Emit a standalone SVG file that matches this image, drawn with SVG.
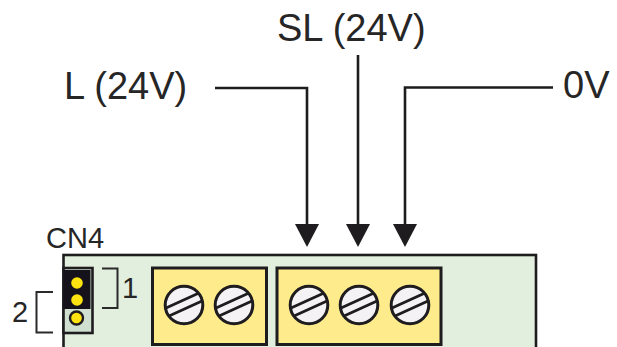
<svg xmlns="http://www.w3.org/2000/svg" width="617" height="347" viewBox="0 0 617 347">
<style>
.t{font-family:"Liberation Sans",Arial,sans-serif;fill:#262626}
.big{font-size:38px}
.small{font-size:29px}
.w{fill:none;stroke:#1e1c1e;stroke-width:2.6}
.br{fill:none;stroke:#2a2a2a;stroke-width:2}
.term{fill:#fdeb8c;stroke:#1e1c1e;stroke-width:3}
.slot{stroke:#1e1c1e;stroke-width:2.8;fill:none}
.pin{fill:#fde30f}
</style>
<defs>
<marker id="a" markerUnits="userSpaceOnUse" markerWidth="24" markerHeight="24" refX="12" refY="12" orient="auto"><path d="M0 0L23 12L0 24Z" fill="#1e1c1e"/></marker>
<g id="screw"><circle r="18.8" fill="#f4f2f4" stroke="#1e1c1e" stroke-width="3"/><path class="slot" d="M-18 3L15 -12M-15 11L18 -4"/></g>
</defs>
<rect width="617" height="347" fill="#fff"/>
<g id="board"><rect x="63.5" y="255" width="472.5" height="94" fill="#e2efdf" stroke="#1e1c1e" stroke-width="2.6"/></g>
<g id="cn4">
<rect x="63.5" y="268" width="29" height="65" fill="#cfe0d0" stroke="#1e1c1e" stroke-width="2.6"/>
<rect x="63.5" y="270" width="27" height="39" fill="#15121c"/>
<circle class="pin" cx="77" cy="283" r="5.8"/>
<circle class="pin" cx="77" cy="300" r="5.8"/>
<circle class="pin" cx="76.500" cy="318" r="6.500" stroke="#1e1c1e" stroke-width="2.400"/>
<text class="t small" x="46" y="248">CN4</text>
</g>
<g id="bracket-1"><path class="br" d="M102 268.500H117.500V308H102"/><text class="t small" x="122" y="298">1</text></g>
<g id="bracket-2"><path class="br" d="M53 292H36.500V332.500H53"/><text class="t small" x="12" y="322">2</text></g>
<g id="terminal-2">
<rect class="term" x="152.500" y="268" width="114" height="76.500"/>
<use href="#screw" x="184" y="305"/><use href="#screw" x="234" y="305"/>
</g>
<g id="terminal-3">
<rect class="term" x="277" y="268" width="164" height="76.500"/>
<use href="#screw" x="309" y="305"/><use href="#screw" x="359" y="305"/><use href="#screw" x="410" y="305"/>
</g>
<g id="label-l"><text class="t big" x="64" y="99">L (24V)</text></g>
<g id="label-sl"><text class="t big" x="277" y="41">SL (24V)</text></g>
<g id="label-0v"><text class="t big" x="563" y="98">0V</text></g>
<g id="connectors">
<path class="w" d="M215 88H307V236" marker-end="url(#a)"/>
<path class="w" d="M358 55V236" marker-end="url(#a)"/>
<path class="w" d="M553 87.500H405V236" marker-end="url(#a)"/>
</g>
</svg>
